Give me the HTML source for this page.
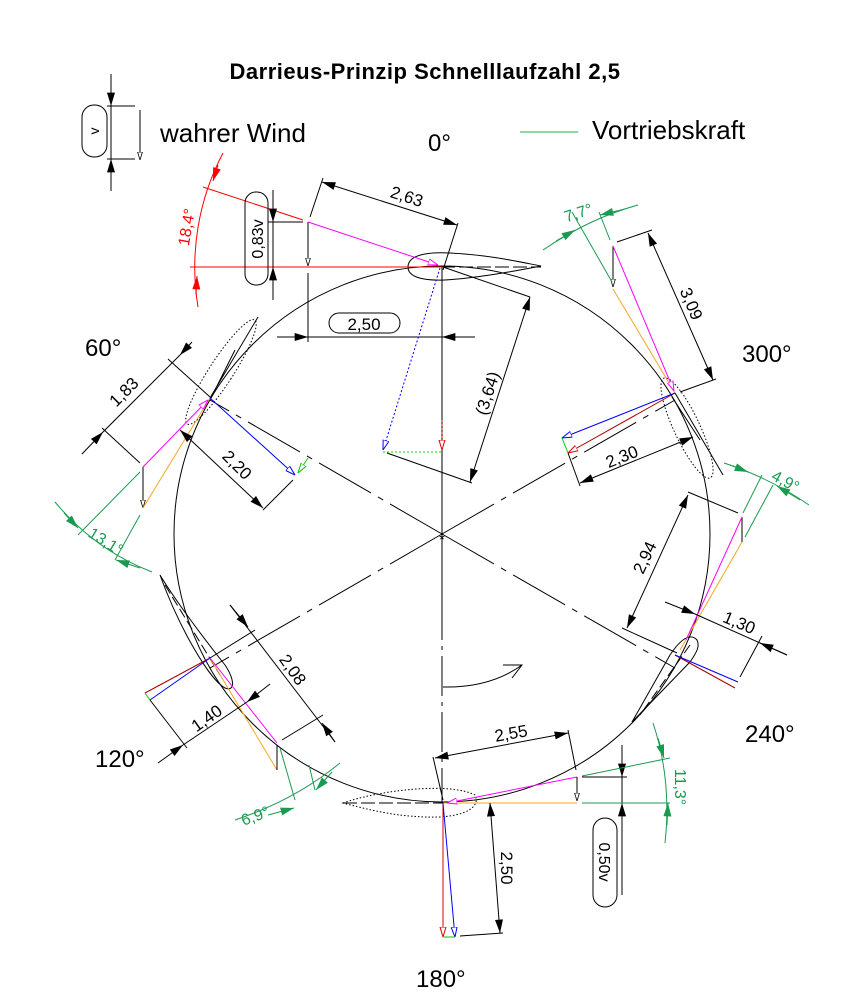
<!DOCTYPE html>
<html><head><meta charset="utf-8"><style>
html,body{margin:0;padding:0;background:#fff;}
svg{display:block;font-family:"Liberation Sans","DejaVu Sans",sans-serif;}
</style></head><body>
<svg width="862" height="1000" viewBox="0 0 862 1000" xmlns="http://www.w3.org/2000/svg">
<defs>
<marker id="a" viewBox="0 0 10 6" refX="10" refY="3" markerWidth="14" markerHeight="8" orient="auto-start-reverse" markerUnits="userSpaceOnUse"><path d="M0,0 L10,3 L0,6Z" fill="#000"/></marker>
<marker id="g" viewBox="0 0 10 6" refX="10" refY="3" markerWidth="14" markerHeight="8" orient="auto-start-reverse" markerUnits="userSpaceOnUse"><path d="M0,0 L10,3 L0,6Z" fill="#1a9a50"/></marker>
<marker id="r" viewBox="0 0 10 6" refX="10" refY="3" markerWidth="14" markerHeight="8" orient="auto-start-reverse" markerUnits="userSpaceOnUse"><path d="M0,0 L10,3 L0,6Z" fill="#f00"/></marker>
<marker id="ok" viewBox="0 0 10 6" refX="10" refY="3" markerWidth="8" markerHeight="6" orient="auto" markerUnits="userSpaceOnUse"><path d="M0,0 L10,3 L0,6Z" fill="#fff" stroke="#000" stroke-width="1"/></marker>
<marker id="ob" viewBox="0 0 10 6" refX="10" refY="3" markerWidth="10" markerHeight="7" orient="auto" markerUnits="userSpaceOnUse"><path d="M0,0 L10,3 L0,6Z" fill="#fff" stroke="#00f" stroke-width="1"/></marker>
<marker id="or" viewBox="0 0 10 6" refX="10" refY="3" markerWidth="10" markerHeight="7" orient="auto" markerUnits="userSpaceOnUse"><path d="M0,0 L10,3 L0,6Z" fill="#fff" stroke="#d00" stroke-width="1"/></marker>
<marker id="om" viewBox="0 0 10 6" refX="10" refY="3" markerWidth="10" markerHeight="7" orient="auto" markerUnits="userSpaceOnUse"><path d="M0,0 L10,3 L0,6Z" fill="#fff" stroke="#f0f" stroke-width="1"/></marker>
<marker id="og" viewBox="0 0 10 6" refX="10" refY="3" markerWidth="10" markerHeight="7" orient="auto" markerUnits="userSpaceOnUse"><path d="M0,0 L10,3 L0,6Z" fill="#fff" stroke="#0c0" stroke-width="1"/></marker>
</defs>

<text x="425" y="79" font-size="22" font-weight="bold" text-anchor="middle" letter-spacing="0.5">Darrieus-Prinzip Schnelllaufzahl 2,5</text>

<!-- legend -->
<g stroke="#000" stroke-width="1" fill="none">
<rect x="82" y="105" width="25" height="52" rx="12"/>
<line x1="111" y1="74" x2="111" y2="191"/>
<line x1="111" y1="80" x2="111" y2="106" marker-end="url(#a)"/>
<line x1="111" y1="185" x2="111" y2="159" marker-end="url(#a)"/>
<line x1="107" y1="106" x2="135" y2="106"/><line x1="107" y1="159" x2="135" y2="159"/>
<line x1="140" y1="110" x2="140" y2="160" marker-end="url(#ok)"/>
</g>
<text transform="translate(99,131) rotate(-90)" font-size="14" text-anchor="middle">v</text>
<text x="160" y="142" font-size="26">wahrer Wind</text>
<text x="428" y="151" font-size="24">0°</text>
<line x1="520" y1="132" x2="578" y2="132" stroke="#1db04a" stroke-width="1"/>
<text x="592" y="139" font-size="26">Vortriebskraft</text>
<text x="85" y="356" font-size="24">60°</text>
<text x="742" y="362" font-size="24">300°</text>
<text x="95" y="767" font-size="24">120°</text>
<text x="745" y="742" font-size="24">240°</text>
<text x="416" y="987" font-size="24">180°</text>

<!-- circle & center lines -->
<circle cx="442" cy="534" r="268" fill="none" stroke="#000" stroke-width="1"/>
<g stroke="#000" stroke-width="1" fill="none">
<line x1="442" y1="266" x2="442" y2="600"/>
<line x1="442" y1="600" x2="442" y2="803" stroke-dasharray="40,6,4,6"/>
<line x1="442" y1="534" x2="210" y2="400" stroke-dasharray="60,8,6,8"/>
<line x1="442" y1="534" x2="675" y2="400" stroke-dasharray="60,8,6,8"/>
<line x1="442" y1="534" x2="210" y2="668" stroke-dasharray="60,8,6,8"/>
<line x1="442" y1="534" x2="675" y2="668" stroke-dasharray="60,8,6,8"/>
</g>
<text x="442" y="544" font-size="14" text-anchor="middle">*</text>

<!-- 0° blade -->
<path d="M408,267 C408,254 430,252 450,253 C490,255 520,262 541,266 C520,270 480,278 445,280 C420,281 408,276 408,267Z" fill="none" stroke="#000"/>
<line x1="441" y1="267" x2="541" y2="267" stroke="#000" stroke-dasharray="14,4"/>
<line x1="190" y1="267" x2="443" y2="267" stroke="#f00"/>
<line x1="203" y1="187" x2="303" y2="220" stroke="#f00"/>
<path d="M223,153 A245,245 0 0 0 198,307" fill="none" stroke="#f00"/>
<line x1="218" y1="165" x2="213" y2="181" stroke="#f00" marker-end="url(#r)"/>
<line x1="196" y1="295" x2="197" y2="276" stroke="#f00" marker-end="url(#r)"/>
<text transform="translate(192,228) rotate(-80)" font-size="16" fill="#f00" text-anchor="middle">18,4°</text>
<rect x="245" y="192" width="23" height="93" rx="11" fill="none" stroke="#000"/>
<text transform="translate(263,239) rotate(-90)" font-size="16" text-anchor="middle">0,83v</text>
<g stroke="#000" fill="none">
<line x1="273" y1="190" x2="273" y2="300"/>
<line x1="273" y1="200" x2="273" y2="222" marker-end="url(#a)"/>
<line x1="273" y1="290" x2="273" y2="267" marker-end="url(#a)"/>
<line x1="268" y1="222" x2="303" y2="222"/>
<line x1="308" y1="222" x2="308" y2="266" marker-end="url(#ok)"/>
<line x1="308" y1="273" x2="308" y2="342"/>
<line x1="442" y1="273" x2="442" y2="342"/>
<line x1="277" y1="337" x2="308" y2="337" marker-end="url(#a)"/>
<line x1="308" y1="337" x2="442" y2="337"/>
<line x1="475" y1="337" x2="442" y2="337" marker-end="url(#a)"/>
<rect x="329" y="313" width="71" height="20" rx="10"/>
<line x1="322" y1="182" x2="457" y2="225" marker-start="url(#a)" marker-end="url(#a)"/>
<line x1="323" y1="178" x2="310" y2="217"/><line x1="458" y1="223" x2="443" y2="270"/>
<line x1="443" y1="267" x2="530" y2="297"/>
<line x1="530" y1="297" x2="470" y2="482" marker-start="url(#a)" marker-end="url(#a)"/>
<line x1="387" y1="453" x2="472" y2="483"/>
</g>
<text x="364" y="330" font-size="17" text-anchor="middle">2,50</text>
<text transform="translate(405,202) rotate(18)" font-size="17" text-anchor="middle">2,63</text>
<text transform="translate(493,395) rotate(-72)" font-size="17" text-anchor="middle">(3,64)</text>
<line x1="308" y1="222" x2="438" y2="265" stroke="#f0f" marker-end="url(#om)"/>
<line x1="440" y1="268" x2="383" y2="450" stroke="#00f" stroke-dasharray="2,2" marker-end="url(#ob)"/>
<line x1="383" y1="452" x2="442" y2="452" stroke="#0d0" stroke-dasharray="2,2"/>
<line x1="442" y1="420" x2="442" y2="450" stroke="#f00" stroke-dasharray="2,2" marker-end="url(#or)"/>

<!-- 300° blade -->
<ellipse cx="687" cy="428" rx="13" ry="55" transform="rotate(-25 687 428)" fill="none" stroke="#000" stroke-dasharray="1.5,2"/>
<path d="M675,393 L723,475 M672,397 L700,440" stroke="#000" fill="none"/>
<line x1="613" y1="246" x2="613" y2="287" stroke="#000" marker-end="url(#ok)"/>
<line x1="613" y1="289" x2="675" y2="393" stroke="#f5a623"/>
<line x1="613" y1="246" x2="674" y2="391" stroke="#f0f" marker-end="url(#om)"/>
<line x1="675" y1="393" x2="568" y2="453" stroke="#a00" marker-end="url(#or)"/>
<line x1="675" y1="393" x2="562" y2="438" stroke="#00f" marker-end="url(#ob)"/>
<line x1="562" y1="438" x2="568" y2="453" stroke="#0c0"/>
<g stroke="#000" fill="none">
<line x1="648" y1="233" x2="713" y2="380" marker-start="url(#a)" marker-end="url(#a)"/>
<line x1="617" y1="242" x2="652" y2="230"/><line x1="680" y1="392" x2="716" y2="379"/>
<line x1="580" y1="483" x2="693" y2="437" marker-start="url(#a)" marker-end="url(#a)"/>
<line x1="568" y1="453" x2="580" y2="486"/>
</g>
<text transform="translate(686,306) rotate(67)" font-size="17" text-anchor="middle">3,09</text>
<text transform="translate(624,462) rotate(-22)" font-size="17" text-anchor="middle">2,30</text>
<g stroke="#1a9a50" fill="none">
<line x1="612" y1="282" x2="572" y2="212"/><line x1="610" y1="240" x2="599" y2="212"/>
<path d="M543,250 Q590,218 638,205"/>
<line x1="556" y1="241" x2="575" y2="230" marker-end="url(#g)"/>
<line x1="625" y1="209" x2="600" y2="215" marker-end="url(#g)"/>
</g>
<text transform="translate(580,218) rotate(-18)" font-size="16" fill="#1a9a50" text-anchor="middle">7,7°</text>

<!-- 240° blade -->
<path d="M697,640 C690,632 680,640 670,655 L632,722 L690,662 C697,652 700,646 697,640Z" fill="none" stroke="#000"/>
<line x1="690" y1="645" x2="640" y2="715" stroke="#000" stroke-dasharray="10,4"/>
<line x1="742" y1="517" x2="742" y2="542" stroke="#000"/>
<line x1="742" y1="542" x2="680" y2="650" stroke="#f5a623"/>
<line x1="742" y1="517" x2="686" y2="640" stroke="#f0f"/>
<line x1="675" y1="655" x2="735" y2="688" stroke="#a00"/>
<line x1="675" y1="655" x2="738" y2="682" stroke="#00f"/>
<g stroke="#000" fill="none">
<line x1="688" y1="495" x2="627" y2="628" marker-start="url(#a)" marker-end="url(#a)"/>
<line x1="688" y1="492" x2="738" y2="513"/><line x1="622" y1="628" x2="677" y2="653"/>
<line x1="665" y1="602" x2="695" y2="614" marker-end="url(#a)"/>
<line x1="695" y1="614" x2="787" y2="655"/>
<line x1="787" y1="655" x2="760" y2="643" marker-end="url(#a)"/>
<line x1="740" y1="677" x2="762" y2="636"/>
</g>
<text transform="translate(650,560) rotate(-65)" font-size="17" text-anchor="middle">2,94</text>
<text transform="translate(737,628) rotate(23)" font-size="17" text-anchor="middle">1,30</text>
<g stroke="#1a9a50" fill="none">
<line x1="743" y1="513" x2="762" y2="475"/><line x1="745" y1="537" x2="773" y2="485"/>
<path d="M724,463 Q770,478 809,505"/>
<line x1="730" y1="465" x2="748" y2="472" marker-end="url(#g)"/>
<line x1="800" y1="500" x2="777" y2="486" marker-end="url(#g)"/>
</g>
<text transform="translate(783,486) rotate(28)" font-size="16" fill="#1a9a50" text-anchor="middle">4,9°</text>

<!-- 60° blade -->
<ellipse cx="221" cy="372" rx="12" ry="62" transform="rotate(33 221 372)" fill="none" stroke="#000" stroke-dasharray="1.5,2"/>
<path d="M210,398 L258,317 M214,392 L235,350" stroke="#000" fill="none"/>
<line x1="143" y1="467" x2="143" y2="508" stroke="#000" marker-end="url(#ok)"/>
<line x1="143" y1="508" x2="210" y2="398" stroke="#f5a623"/>
<line x1="143" y1="467" x2="208" y2="400" stroke="#f0f" marker-end="url(#om)"/>
<line x1="210" y1="398" x2="295" y2="475" stroke="#00f" marker-end="url(#ob)"/>
<line x1="308" y1="458" x2="298" y2="473" stroke="#0c0" marker-end="url(#og)"/>
<g stroke="#000" fill="none">
<line x1="82" y1="454" x2="103" y2="432" marker-end="url(#a)"/>
<line x1="103" y1="432" x2="180" y2="355"/>
<line x1="192" y1="342" x2="180" y2="355" marker-end="url(#a)"/>
<line x1="102" y1="428" x2="140" y2="463"/><line x1="168" y1="359" x2="210" y2="397"/>
<line x1="180" y1="430" x2="263" y2="508" marker-start="url(#a)" marker-end="url(#a)"/>
<line x1="263" y1="510" x2="293" y2="480"/>
</g>
<text transform="translate(128,396) rotate(-45)" font-size="17" text-anchor="middle">1,83</text>
<text transform="translate(233,469) rotate(45)" font-size="17" text-anchor="middle">2,20</text>
<g stroke="#1a9a50" fill="none">
<line x1="140" y1="472" x2="78" y2="535"/><line x1="140" y1="515" x2="115" y2="560"/>
<path d="M55,502 Q95,550 152,572"/>
<line x1="64" y1="513" x2="78" y2="528" marker-end="url(#g)"/>
<line x1="140" y1="568" x2="116" y2="560" marker-end="url(#g)"/>
</g>
<text transform="translate(103,546) rotate(32)" font-size="16" fill="#1a9a50" text-anchor="middle">13,1°</text>

<!-- 120° blade -->
<path d="M160,575 C175,600 205,640 225,665 C235,680 235,692 225,688 C210,680 180,630 160,575Z" fill="none" stroke="#000"/>
<line x1="165" y1="585" x2="220" y2="675" stroke="#000" stroke-dasharray="10,4"/>
<line x1="210" y1="658" x2="145" y2="693" stroke="#a00"/>
<line x1="210" y1="658" x2="150" y2="700" stroke="#00f"/>
<line x1="145" y1="693" x2="150" y2="700" stroke="#0c0"/>
<line x1="210" y1="658" x2="277" y2="770" stroke="#f5a623"/>
<line x1="210" y1="658" x2="277" y2="743" stroke="#f0f"/>
<line x1="277" y1="745" x2="277" y2="770" stroke="#000"/>
<g stroke="#000" fill="none">
<line x1="158" y1="763" x2="183" y2="745" marker-end="url(#a)"/>
<line x1="183" y1="745" x2="247" y2="702"/>
<line x1="270" y1="684" x2="247" y2="702" marker-end="url(#a)"/>
<line x1="150" y1="700" x2="187" y2="748"/>
<line x1="230" y1="605" x2="335" y2="742"/>
<line x1="230" y1="605" x2="248" y2="627" marker-end="url(#a)"/>
<line x1="335" y1="742" x2="322" y2="723" marker-end="url(#a)"/>
<line x1="323" y1="715" x2="282" y2="740"/>
<line x1="210" y1="658" x2="255" y2="630"/>
</g>
<text transform="translate(210,723) rotate(-35)" font-size="17" text-anchor="middle">1,40</text>
<text transform="translate(288,673) rotate(55)" font-size="17" text-anchor="middle">2,08</text>
<g stroke="#1a9a50" fill="none">
<line x1="280" y1="748" x2="295" y2="800"/><line x1="309" y1="765" x2="315" y2="790"/>
<path d="M235,820 Q295,800 340,763"/>
<line x1="268" y1="815" x2="294" y2="808" marker-end="url(#g)"/>
<line x1="332" y1="772" x2="316" y2="790" marker-end="url(#g)"/>
</g>
<text transform="translate(257,821) rotate(-20)" font-size="16" fill="#1a9a50" text-anchor="middle">6,9°</text>

<!-- 180° blade -->
<path d="M343,803 C380,790 450,782 475,795 C480,805 470,815 440,817 C400,818 370,810 343,803Z" fill="none" stroke="#000" stroke-dasharray="1.5,2"/>
<line x1="343" y1="803" x2="443" y2="803" stroke="#000" stroke-dasharray="14,4"/>
<line x1="443" y1="803" x2="577" y2="803" stroke="#f5a623"/>
<line x1="577" y1="777" x2="447" y2="803" stroke="#f0f" marker-end="url(#om)"/>
<line x1="577" y1="777" x2="577" y2="801" stroke="#000" marker-end="url(#ok)"/>
<line x1="443" y1="803" x2="443" y2="937" stroke="#d00" marker-end="url(#or)"/>
<line x1="443" y1="803" x2="455" y2="937" stroke="#00f" marker-end="url(#ob)"/>
<line x1="443" y1="937" x2="455" y2="937" stroke="#0c0"/>
<g stroke="#000" fill="none">
<line x1="435" y1="758" x2="568" y2="733" marker-start="url(#a)" marker-end="url(#a)"/>
<line x1="433" y1="757" x2="443" y2="800"/><line x1="568" y1="730" x2="576" y2="770"/>
<line x1="490" y1="803" x2="500" y2="933" marker-start="url(#a)" marker-end="url(#a)"/>
<line x1="460" y1="936" x2="503" y2="933"/>
<line x1="582" y1="777" x2="627" y2="777"/>
<line x1="622" y1="745" x2="622" y2="895"/>
<line x1="622" y1="757" x2="622" y2="777" marker-end="url(#a)"/>
<line x1="622" y1="823" x2="622" y2="803" marker-end="url(#a)"/>
<rect x="593" y="818" width="24" height="89" rx="12"/>
<path d="M443,687 Q490,688 522,665 M503,665 L522,665 L512,678"/>
</g>
<text transform="translate(512,739) rotate(-10)" font-size="17" text-anchor="middle">2,55</text>
<text transform="translate(501,868) rotate(90)" font-size="17" text-anchor="middle">2,50</text>
<text transform="translate(599,862) rotate(90)" font-size="16" text-anchor="middle">0,50v</text>
<g stroke="#1a9a50" fill="none">
<line x1="582" y1="803" x2="670" y2="803"/>
<line x1="582" y1="776" x2="670" y2="758"/>
<path d="M653,723 Q672,780 665,843"/>
<line x1="658" y1="738" x2="664" y2="758" marker-end="url(#g)"/>
<line x1="667" y1="825" x2="668" y2="803" marker-end="url(#g)"/>
</g>
<text transform="translate(675,787) rotate(90)" font-size="16" fill="#1a9a50" text-anchor="middle">11,3°</text>
</svg>
</body></html>
